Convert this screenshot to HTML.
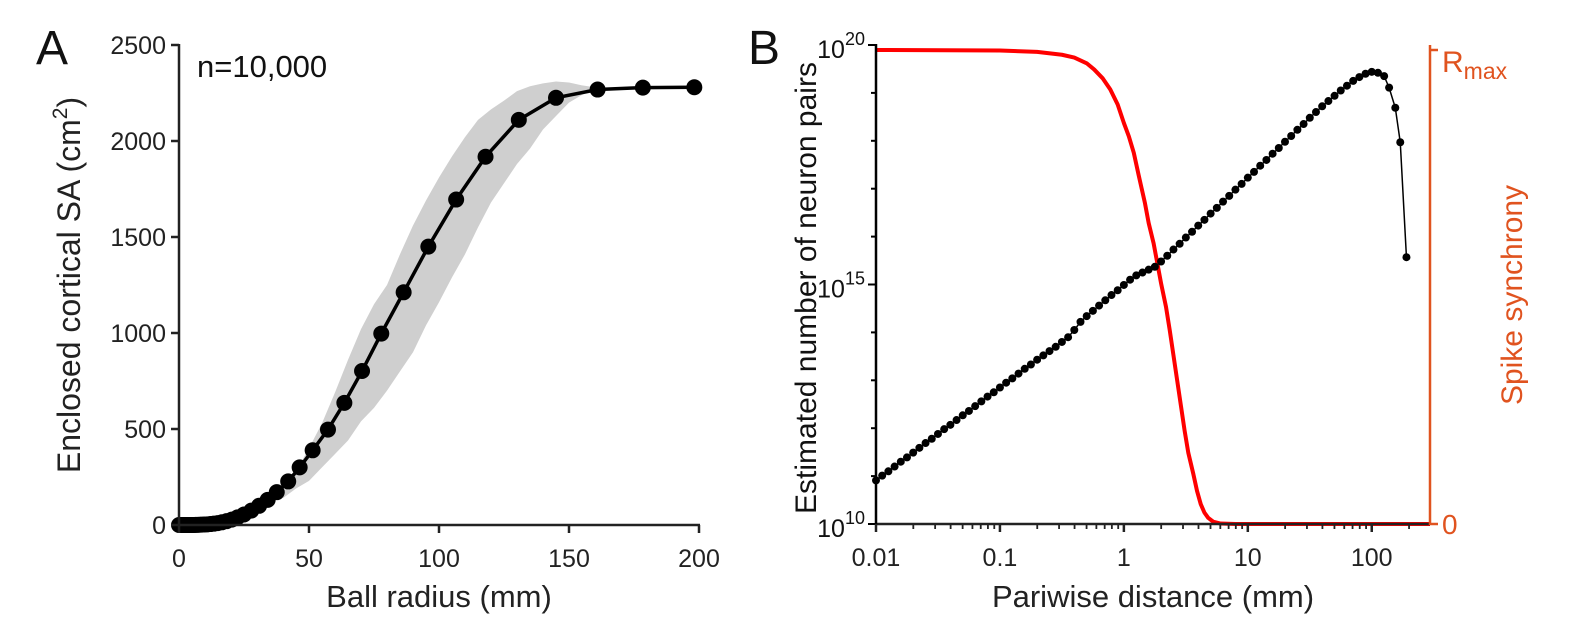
<!DOCTYPE html>
<html><head><meta charset="utf-8"><style>
body{margin:0;background:#fff;}
svg{display:block;font-family:"Liberation Sans",Arial,sans-serif;}
</style></head><body>
<svg id="fig" width="1592" height="629" viewBox="0 0 1592 629"></svg>
<script>
// Panel A data
const radiusMm = [0,0.5,1,1.2,1.4,1.6,1.8,2,2.2,2.5,2.8,3.1,3.4,3.8,4.2,4.7,5.2,5.8,6.4,7.1,7.9,8.8,9.8,10.9,12.1,13.4,14.9,16.5,18.3,20.3,22.5,25,27.8,30.8,34.1,37.6,42,46.4,51.4,57.3,63.6,70.4,77.8,86.4,95.9,106.6,117.9,130.7,145,161,178.4,198.2];
const areaCm2 = [0,0,0,0,0,0,0,0,0,0,0,0,0,0,0,0.1,0.2,0.3,0.5,0.8,1.2,1.8,2.5,3.5,5,7,10,14,20,28,40,55,75,100,131,171,227,300,389,497,636,802,997,1212,1450,1695,1918,2110,2225,2268,2278,2280];
const bandX = [40,45,50,55,60,65,70,75,80,85,90,95,100,105,110,115,120,125,130,135,140,145,150,155,160];
const bandUpper = [170,280,400,530,690,860,1020,1150,1250,1410,1560,1690,1810,1920,2020,2110,2165,2210,2260,2285,2300,2310,2305,2290,2280];
const bandLower = [140,190,230,300,370,440,540,610,700,800,900,1040,1160,1290,1410,1550,1680,1780,1880,1960,2060,2130,2200,2240,2270];
const aXTicks = [0,50,100,150,200];
const aYTicks = [0,500,1000,1500,2000,2500];
// Panel B data (log10 distance in mm, log10 pairs)
const pairsLogDist = [];
for (let i=0;i<=80;i++) pairsLogDist.push(-2+i*0.05);
pairsLogDist.push(2.05,2.1,2.14,2.19,2.23,2.28);
const pairsLogCount = [10.91,11.01,11.10,11.20,11.30,11.39,11.49,11.59,11.69,11.78,11.88,11.98,12.07,12.17,12.27,12.36,12.46,12.56,12.66,12.75,12.85,12.95,13.04,13.14,13.24,13.33,13.43,13.52,13.61,13.70,13.80,13.90,14.05,14.22,14.34,14.45,14.56,14.67,14.78,14.88,14.99,15.10,15.19,15.25,15.31,15.37,15.48,15.60,15.73,15.85,15.98,16.10,16.23,16.35,16.48,16.60,16.73,16.85,16.98,17.10,17.23,17.35,17.48,17.60,17.73,17.85,17.98,18.10,18.23,18.35,18.48,18.60,18.72,18.83,18.94,19.05,19.15,19.25,19.33,19.40,19.44,19.42,19.35,19.11,18.69,17.97,15.57];
const syncLogDist = [-2,-1,-0.7,-0.5,-0.4,-0.3,-0.24,-0.17,-0.11,-0.05,0,0.04,0.08,0.12,0.17,0.2,0.24,0.27,0.30,0.34,0.37,0.40,0.43,0.46,0.49,0.52,0.56,0.59,0.62,0.65,0.68,0.72,0.78,0.9,1.0,2.47];
const syncValue = [1,0.999,0.996,0.99,0.984,0.972,0.959,0.94,0.917,0.885,0.846,0.818,0.783,0.735,0.677,0.635,0.592,0.55,0.508,0.458,0.409,0.356,0.303,0.25,0.197,0.15,0.106,0.07,0.042,0.024,0.013,0.005,0.001,0,0,0];
const bXTickLabels = ["0.01","0.1","1","10","100"];
const bYTickExps = ["10","15","20"];

const NS="http://www.w3.org/2000/svg";
const svg=document.getElementById('fig');
function mk(tag,attrs,parent){const e=document.createElementNS(NS,tag);for(const k in attrs)e.setAttribute(k,attrs[k]);(parent||svg).appendChild(e);return e;}
const FS=25, TS=31;

// ---------- Panel A ----------
const A={x0:179,x1:699,y0:525,y1:45};
const ax=v=>A.x0+(v/200)*(A.x1-A.x0);
const ay=v=>A.y0-(v/2500)*(A.y0-A.y1);
const gA=mk('g',{});


let lbl=mk('text',{x:36,y:64,'font-size':48,fill:'#111'},gA);lbl.textContent='A';

let bp='';
bandX.forEach((x,i)=>{bp+=(i?'L':'M')+ax(x)+','+ay(bandUpper[i]);});
for(let i=bandX.length-1;i>=0;i--)bp+='L'+ax(bandX[i])+','+ay(bandLower[i]);
const band=mk('path',{d:bp+'Z',fill:'#cfcfcf',stroke:'none'},gA);

const lineA=mk('polyline',{points:radiusMm.map((x,i)=>ax(x)+','+ay(areaCm2[i])).join(' '),fill:'none',stroke:'#000','stroke-width':3.5},gA);

radiusMm.forEach((x,i)=>{const c=mk('circle',{cx:ax(x),cy:ay(areaCm2[i]),r:8,fill:'#000'},gA);

});
mk('line',{x1:A.x0,y1:A.y0,x2:A.x1+1,y2:A.y0,stroke:'#222','stroke-width':2.5},gA);
mk('line',{x1:A.x0,y1:A.y0,x2:A.x0,y2:A.y1-1,stroke:'#222','stroke-width':2.5},gA);
aXTicks.forEach(t=>{mk('line',{x1:ax(t),y1:A.y0,x2:ax(t),y2:A.y0+8,stroke:'#222','stroke-width':2.5},gA);
const tx=mk('text',{x:ax(t),y:A.y0+42,'font-size':FS,'text-anchor':'middle',fill:'#222'},gA);tx.textContent=t;
});
aYTicks.forEach(t=>{mk('line',{x1:A.x0-8,y1:ay(t),x2:A.x0,y2:ay(t),stroke:'#222','stroke-width':2.5},gA);
const tx=mk('text',{x:A.x0-13,y:ay(t)+9,'font-size':FS,'text-anchor':'end',fill:'#222'},gA);tx.textContent=t;
});
let t=mk('text',{x:439,y:607,'font-size':TS,'text-anchor':'middle',fill:'#222'},gA);t.textContent='Ball radius (mm)';

t=mk('text',{transform:'translate(80,285) rotate(-90)','font-size':32,'text-anchor':'middle',fill:'#222'},gA);
t.innerHTML='Enclosed cortical SA (cm<tspan font-size="21" dy="-13">2</tspan><tspan dy="13">)</tspan>';

t=mk('text',{x:197,y:77,'font-size':31,fill:'#111'},gA);t.textContent='n=10,000';


// ---------- Panel B ----------
const B={x0:876,x1:1430,y0:524,y1:45,dmin:-2,dmax:2.47};
const bx=d=>B.x0+(d-B.dmin)/(B.dmax-B.dmin)*(B.x1-B.x0);
const by=e=>B.y0-(e-10)/10*(B.y0-B.y1);
const rTop=50;
const ry=r=>B.y0-r*(B.y0-rTop);
const gB=mk('g',{});


lbl=mk('text',{x:748,y:64,'font-size':48,fill:'#111'},gB);lbl.textContent='B';

const red=mk('polyline',{points:syncLogDist.map((d,i)=>bx(d)+','+ry(syncValue[i])).join(' '),fill:'none',stroke:'#ff0000','stroke-width':4,'stroke-linejoin':'round'},gB);

const lineB=mk('polyline',{points:pairsLogDist.map((d,i)=>bx(d)+','+by(pairsLogCount[i])).join(' '),fill:'none',stroke:'#000','stroke-width':1.5},gB);

pairsLogDist.forEach((d,i)=>{const c=mk('circle',{cx:bx(d),cy:by(pairsLogCount[i]),r:4,fill:'#000'},gB);

});
mk('line',{x1:B.x0,y1:B.y0,x2:B.x1,y2:B.y0,stroke:'#222','stroke-width':2.5},gB);
mk('line',{x1:B.x0,y1:B.y0+1,x2:B.x0,y2:B.y1-1,stroke:'#000','stroke-width':2.5},gB);
mk('line',{x1:B.x1,y1:B.y0+1,x2:B.x1,y2:B.y1,stroke:'#e0531f','stroke-width':2.5},gB);
mk('line',{x1:B.x1,y1:rTop,x2:B.x1+8,y2:rTop,stroke:'#e0531f','stroke-width':2.5},gB);
mk('line',{x1:B.x1,y1:B.y0,x2:B.x1+8,y2:B.y0,stroke:'#e0531f','stroke-width':2.5},gB);
for(let e=10;e<=20;e++){mk('line',{x1:B.x0-(e%5===0?8:5),y1:by(e),x2:B.x0,y2:by(e),stroke:'#000','stroke-width':2},gB);}
bXTickLabels.forEach((s,i)=>{const d=-2+i;
mk('line',{x1:bx(d),y1:B.y0,x2:bx(d),y2:B.y0+8,stroke:'#222','stroke-width':2.5},gB);
for(let m=2;m<=9;m++){const dd=d+Math.log10(m);if(dd<=B.dmax)mk('line',{x1:bx(dd),y1:B.y0,x2:bx(dd),y2:B.y0+5,stroke:'#222','stroke-width':1.8},gB);}
const tx=mk('text',{x:bx(d),y:B.y0+42,'font-size':FS,'text-anchor':'middle',fill:'#222'},gB);tx.textContent=s;
});
bYTickExps.forEach(s=>{const e=+s;
const tx=mk('text',{x:B.x0-11,y:by(e)+13,'font-size':FS,'text-anchor':'end',fill:'#111'},gB);
tx.innerHTML='10<tspan font-size="18" dy="-13">'+s+'</tspan>';
});
t=mk('text',{x:1153,y:607,'font-size':TS,'text-anchor':'middle',fill:'#222'},gB);t.textContent='Pariwise distance (mm)';

t=mk('text',{transform:'translate(816,288) rotate(-90)','font-size':30,'text-anchor':'middle',fill:'#111'},gB);t.textContent='Estimated number of neuron pairs';

t=mk('text',{x:1442,y:72,'font-size':30,fill:'#e0531f'},gB);
t.innerHTML='R<tspan font-size="23" dy="7">max</tspan>';

t=mk('text',{x:1442,y:534,'font-size':28,fill:'#e0531f'},gB);t.textContent='0';

t=mk('text',{transform:'translate(1522,295) rotate(-90)','font-size':30,'text-anchor':'middle',fill:'#e0531f'},gB);t.textContent='Spike synchrony';

</script>
</body></html>
